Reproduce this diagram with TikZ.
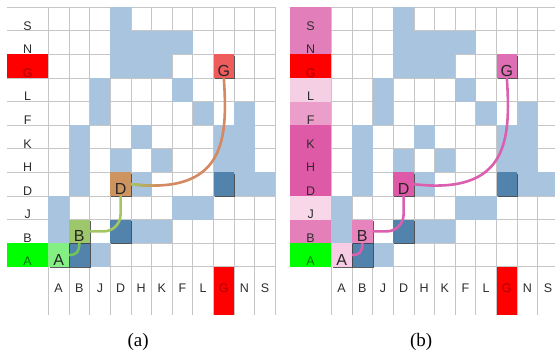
\documentclass[tikz,border=0pt]{standalone}
\usepackage{fontspec}
\setmainfont{Liberation Serif}
\newfontfamily\gridfont{Liberation Sans}
\usepackage{tikz}
\usetikzlibrary{shadows,calc}
\definecolor{gridline}{RGB}{198,198,198}
\definecolor{cellblue}{RGB}{168,196,223}
\definecolor{celldark}{RGB}{82,131,172}
\definecolor{lbltext}{RGB}{45,45,45}
\definecolor{lblred}{RGB}{255,0,0}
\definecolor{lbldkred}{RGB}{170,0,0}
\definecolor{lblgreen}{RGB}{0,255,0}
\definecolor{lbldkgreen}{RGB}{0,120,0}
% panel (a) route colours
\definecolor{nodeAa}{RGB}{132,240,132}
\definecolor{nodeBa}{RGB}{156,199,106}
\definecolor{nodeDa}{RGB}{206,148,96}
\definecolor{nodeGa}{RGB}{238,92,92}
\definecolor{linkAB}{RGB}{112,196,88}
\definecolor{linkBD}{RGB}{163,198,98}
\definecolor{linkDG}{RGB}{214,136,96}
% panel (b) route colours
\definecolor{pinkS}{RGB}{226,127,186}
\definecolor{pinkL}{RGB}{245,207,227}
\definecolor{pinkF}{RGB}{236,158,203}
\definecolor{pinkK}{RGB}{223,90,166}
\definecolor{pinkJ}{RGB}{247,215,232}
\definecolor{pinkB}{RGB}{229,127,185}
\definecolor{nodeAb}{RGB}{248,204,228}
\definecolor{nodeBb}{RGB}{231,132,190}
\definecolor{nodeDb}{RGB}{222,90,168}
\definecolor{nodeGb}{RGB}{222,111,180}
\definecolor{linkpink}{RGB}{219,95,174}

\begin{document}
\begin{tikzpicture}[x=20.65pt, y=-23.59pt,
  gridln/.style={gridline, line width=0.8pt},
  rowlbl/.style={minimum width=41.3pt, minimum height=23.59pt, inner sep=0pt, outer sep=0pt,
    text height=22pt, text depth=0pt, font=\gridfont\fontsize{12.5}{13}\selectfont},
  collbl/.style={inner sep=0pt, font=\gridfont\fontsize{12.5}{13}\selectfont},
  cellshadow/.style={drop shadow={shadow xshift=1.2pt, shadow yshift=-1.2pt, fill=black!75, opacity=0.85}},
  pathnode/.style={minimum width=20.65pt, minimum height=23.59pt, inner sep=0pt, outer sep=0pt,
    text height=20.4pt, text depth=0pt, text=black!85,
    font=\gridfont\fontsize{16}{17}\selectfont, cellshadow},
  link/.style={line width=2.6pt}]
\useasboundingbox (-2.339,-0.309) rectangle (24.537,14.570);
\clip (-2.339,-0.309) rectangle (24.537,14.570);

% common grid for both panels
\foreach \px/\tag in {0/a, 13.705/b} {
  \begin{scope}[shift={(\px,0)}]
    \foreach \r in {0,...,11} \draw[gridln] (-2,\r) -- (11,\r);
    \foreach \c in {0,...,11} \draw[gridln] (\c,0) -- (\c,13.05);
    % free cells
    \foreach \c/\r in {3/0, 3/1,4/1,5/1,6/1, 3/2,4/2,5/2, 2/3,6/3, 2/4,7/4,9/4,
        1/5,4/5,8/5,9/5, 1/6,3/6,5/6,8/6,9/6, 1/7,4/7,9/7,10/7, 0/8,6/8,7/8,
        0/9,4/9,5/9, 2/10}
      \fill[cellblue] (\c,\r) rectangle ++(1,1);
    % blocked cells
    \foreach \c/\r in {8/7, 3/9, 1/10}
      \fill[celldark, cellshadow] (\c,\r) rectangle ++(1,1);
    % goal column
    \fill[lblred] (8,11) rectangle (9,13.05);
    \foreach \l/\tc [count=\c from 0] in {A/lbltext,B/lbltext,J/lbltext,D/lbltext,H/lbltext,
        K/lbltext,F/lbltext,L/lbltext,G/lbldkred,N/lbltext,S/lbltext}
      \node[collbl, text=\tc] (\tag-col-\l) at (\c+0.5,11.9) {\l};
    \node (\tag-cap) at (4.35,14.19) {\fontsize{19}{22}\selectfont(\tag)};
  \end{scope}
}

% panel (a): row labels
\foreach \l/\fc/\tc [count=\r from 0] in {S/none/lbltext, N/none/lbltext, G/lblred/lbldkred,
    L/none/lbltext, F/none/lbltext, K/none/lbltext, H/none/lbltext, D/none/lbltext,
    J/none/lbltext, B/none/lbltext, A/lblgreen/lbldkgreen}
  \node[rowlbl, fill=\fc, text=\tc] (a-row-\l) at (-1,\r+0.5) {\l};

% panel (a): route A -> B -> D -> G
\node[pathnode, fill=nodeAa] (aA) at (0.5,10.5) {A};
\node[pathnode, fill=nodeBa] (aB) at (1.5,9.5) {B};
\node[pathnode, fill=nodeDa] (aD) at (3.5,7.5) {D};
\node[pathnode, fill=nodeGa] (aG) at (8.5,2.5) {G};
\draw[link, linkAB] (aA.east) .. controls +(0.4,0) and +(0,0.35) .. (aB.south);
\draw[link, linkBD, rounded corners=17pt] (aB.east) -| (aD.south);
\draw[link, linkDG] (aD.east) .. controls (8.557,7.957) and (8.702,5.625) .. (aG.south);
\foreach \i in {0,...,6} {
  \pgfmathtruncatemacro\mixpct{100-\i*15}
  \begin{scope}
    \clip (4+\i*0.2,6.5) rectangle ++(0.2,2);
    \draw[link, linkBD!\mixpct!linkDG] (aD.east) .. controls (8.557,7.957) and (8.702,5.625) .. (aG.south);
  \end{scope}
}

\begin{scope}[shift={(13.705,0)}]
  % panel (b): row labels
  \foreach \l/\fc/\tc [count=\r from 0] in {S/pinkS/lbltext, N/pinkS/lbltext, G/lblred/lbldkred,
      L/pinkL/lbltext, F/pinkF/lbltext, K/pinkK/lbltext, H/pinkK/lbltext, D/pinkK/lbltext,
      J/pinkJ/lbltext, B/pinkB/lbltext, A/lblgreen/lbldkgreen}
    \node[rowlbl, fill=\fc, text=\tc] (b-row-\l) at (-1,\r+0.5) {\l};

  % panel (b): route A -> B -> D -> G
  \node[pathnode, fill=nodeAb] (bA) at (0.5,10.5) {A};
  \node[pathnode, fill=nodeBb] (bB) at (1.5,9.5) {B};
  \node[pathnode, fill=nodeDb] (bD) at (3.5,7.5) {D};
  \node[pathnode, fill=nodeGb] (bG) at (8.5,2.5) {G};
  \draw[link, linkpink] (bA.east) .. controls +(0.4,0) and +(0,0.35) .. (bB.south);
  \draw[link, linkpink, rounded corners=17pt] (bB.east) -| (bD.south);
  \draw[link, linkpink] (bD.east) .. controls (8.557,7.957) and (8.702,5.625) .. (bG.south);
\end{scope}
\end{tikzpicture}
\end{document}
